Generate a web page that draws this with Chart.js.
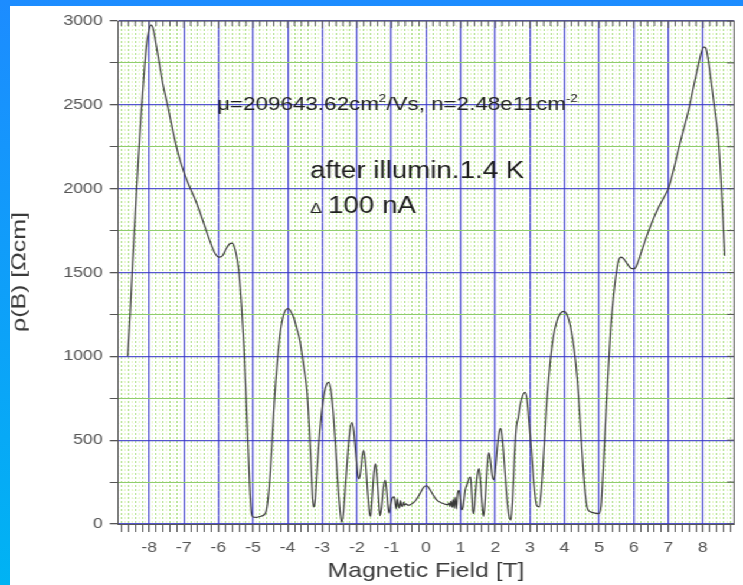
<!DOCTYPE html>
<html>
<head>
<meta charset="utf-8">
<script src="https://cdn.jsdelivr.net/npm/chart.js@4.4.1/dist/chart.umd.min.js"></script>
<style>
    html, body { margin: 0; padding: 0; }
    body {
        width: 743px; height: 585px; overflow: hidden; position: relative;
        background: linear-gradient(to bottom, #1c8cff, #00b3f3);
    }
    /* the original picture is stretched sideways, so the panel is too */
    #panel {
        position: absolute; left: 10px; top: 6px; width: 621px; height: 579px;
        background: #fff; transform: scaleX(1.1804); transform-origin: 0 0;
    }
</style>
</head>
<body>
<div id="panel"><canvas id="chart"></canvas></div>
<script>
// magnetic field B [T]
const fieldT = [
    -8.62,-8.55,-8.48,-8.40,-8.32,-8.24,-8.16,-8.08,-8.00,-7.94,
    -7.88,-7.80,-7.70,-7.60,-7.47,-7.30,-7.15,-7.00,-6.85,-6.70,
    -6.55,-6.40,-6.25,-6.10,-5.98,-5.88,-5.78,-5.68,-5.60,-5.52,
    -5.45,-5.40,-5.33,-5.26,-5.20,-5.14,-5.09,-5.05,-5.00,-4.90,
    -4.80,-4.70,-4.62,-4.56,-4.50,-4.44,-4.38,-4.30,-4.22,-4.14,
    -4.06,-3.98,-3.90,-3.82,-3.74,-3.64,-3.54,-3.44,-3.38,-3.32,
    -3.28,-3.25,-3.21,-3.16,-3.10,-3.03,-2.95,-2.87,-2.81,-2.75,
    -2.68,-2.62,-2.56,-2.50,-2.44,-2.39,-2.32,-2.25,-2.19,-2.14,
    -2.09,-2.03,-1.97,-1.93,-1.88,-1.84,-1.80,-1.75,-1.69,-1.63,
    -1.60,-1.55,-1.50,-1.46,-1.42,-1.37,-1.33,-1.29,-1.23,-1.18,
    -1.14,-1.10,-1.07,-1.02,-0.96,-0.92,-0.89,-0.86,-0.83,-0.80,
    -0.77,-0.74,-0.71,-0.68,-0.65,-0.62,-0.58,-0.52,-0.45,-0.38,
    -0.30,-0.22,-0.14,-0.07,0.00,0.06,0.13,0.20,0.28,0.36,
    0.45,0.55,0.62,0.66,0.69,0.72,0.75,0.78,0.81,0.84,
    0.88,0.91,0.95,0.99,1.03,1.07,1.13,1.20,1.26,1.29,
    1.32,1.35,1.38,1.42,1.48,1.53,1.57,1.62,1.66,1.70,
    1.75,1.79,1.82,1.86,1.91,1.96,2.01,2.07,2.12,2.16,
    2.21,2.27,2.34,2.40,2.45,2.50,2.56,2.61,2.66,2.72,
    2.80,2.86,2.92,2.98,3.05,3.12,3.20,3.27,3.33,3.40,
    3.48,3.58,3.68,3.78,3.88,3.98,4.08,4.18,4.28,4.37,
    4.45,4.53,4.60,4.66,4.75,4.88,5.00,5.06,5.12,5.19,
    5.26,5.33,5.40,5.48,5.56,5.64,5.72,5.82,5.92,6.02,
    6.12,6.25,6.40,6.55,6.70,6.85,7.00,7.15,7.30,7.45,
    7.60,7.72,7.85,7.95,8.02,8.08,8.16,8.25,8.35,8.44,
    8.52,8.58,8.63
];
// resistivity rho(B) [Ohm cm]
const rho = [
    1000,1250,1550,1850,2150,2420,2650,2850,2950,2975,
    2950,2860,2740,2620,2500,2330,2200,2100,2020,1950,
    1870,1780,1690,1615,1592,1600,1640,1670,1675,1640,
    1570,1490,1300,1050,760,450,200,70,42,40,
    45,52,75,160,310,520,740,960,1130,1230,
    1275,1285,1265,1230,1170,1089,950,793,600,350,
    170,102,130,280,470,640,770,835,845,800,
    660,480,280,110,10,60,250,450,570,605,
    560,420,290,270,330,410,438,370,200,60,
    45,180,320,359,290,150,50,90,220,262,
    200,100,65,120,160,162,120,90,150,115,
    95,140,110,105,130,112,120,112,115,125,
    140,165,195,218,228,222,200,175,150,135,
    125,118,115,125,105,135,100,145,95,160,
    90,180,201,150,85,100,200,245,278,280,
    180,80,63,160,290,330,260,120,45,120,
    290,400,425,380,290,265,340,480,555,570,
    500,340,150,45,24,150,420,580,630,710,
    770,785,740,600,420,230,110,102,200,420,
    700,950,1120,1210,1255,1268,1245,1170,1040,860,
    620,360,180,95,73,65,62,110,330,620,
    900,1150,1320,1470,1570,1592,1580,1550,1525,1522,
    1560,1640,1730,1810,1880,1940,2000,2110,2240,2360,
    2480,2600,2720,2810,2845,2840,2760,2620,2460,2312,
    2060,1820,1600
];
const xTickLabels = [-8, -7, -6, -5, -4, -3, -2, -1, 0, 1, 2, 3, 4, 5, 6, 7, 8];
const yTickLabels = [0, 500, 1000, 1500, 2000, 2500, 3000];
const xTitle = 'Magnetic Field [T]';
const yTitle = 'ρ(B) [Ωcm]';
const noteFit = [
    { text: 'μ=209643.62cm', sup: false },
    { text: '2', sup: true },
    { text: '/Vs, n=2.48e11cm', sup: false },
    { text: '-2', sup: true }
];
const noteRun = 'after illumin.1.4 K';
const noteCurrent = ['Δ', '100 nA'];

const FONT = '"Liberation Sans", Arial, sans-serif';
const isWhole = v => Math.abs(v - Math.round(v)) < 1e-6;
const tenth = v => Math.round(v * 10);

const framePlugin = {
    id: 'frame',
    afterDatasetsDraw: (chart) => {
        const {ctx, chartArea: a, scales} = chart;
        ctx.save();
        ctx.strokeStyle = '#555';
        ctx.lineWidth = 1;
        ctx.beginPath();
        ctx.moveTo(a.left, a.top);
        ctx.lineTo(a.right, a.top);
        ctx.lineTo(a.right, a.bottom);
        scales.x.ticks.forEach(t => {
            if (tenth(t.value) % 2 !== 0) return;
            const px = scales.x.getPixelForValue(t.value);
            ctx.moveTo(px, a.top);
            ctx.lineTo(px, a.top + (isWhole(t.value) ? 7 : 5));
        });
        scales.y.ticks.forEach(t => {
            if (t.value % 250 !== 0) return;
            const py = scales.y.getPixelForValue(t.value);
            ctx.moveTo(a.right, py);
            ctx.lineTo(a.right - 6, py);
        });
        ctx.stroke();
        ctx.restore();
    }
};

const notesPlugin = {
    id: 'notes',
    afterDraw: (chart) => {
        const ctx = chart.ctx;
        ctx.save();
        ctx.fillStyle = '#1e1e1e';
        ctx.textBaseline = 'alphabetic';
        ctx.textAlign = 'left';
        let x = 175.4;
        noteFit.forEach(p => {
            ctx.font = `${p.sup ? 11 : 19}px ${FONT}`;
            ctx.fillText(p.text, x, p.sup ? 96 : 104);
            x += ctx.measureText(p.text).width;
        });
        ctx.font = `23.5px ${FONT}`;
        ctx.fillText(noteRun, 254.2, 172);
        ctx.font = `15px ${FONT}`;
        ctx.fillText(noteCurrent[0], 254.2, 207);
        ctx.font = `23.5px ${FONT}`;
        ctx.fillText(noteCurrent[1], 269.4, 207);

        // y axis title, drawn by hand to match its long, narrow lettering
        ctx.fillStyle = '#3a3a3a';
        ctx.font = `16px ${FONT}`;
        const w = ctx.measureText(yTitle).width;
        ctx.translate(8.5, 266);
        ctx.rotate(-Math.PI / 2);
        ctx.scale(120 / w, 1);
        ctx.textAlign = 'center';
        ctx.textBaseline = 'middle';
        ctx.fillText(yTitle, 0, 0);
        ctx.restore();
    }
};

new Chart(document.getElementById('chart'), {
    type: 'line',
    data: {
        datasets: [{
            data: fieldT.map((b, i) => ({ x: b, y: rho[i] })),
            borderColor: '#3a3a3a',
            borderWidth: 1.2,
            pointRadius: 0,
            cubicInterpolationMode: 'monotone',
            fill: false
        }]
    },
    options: {
        responsive: true,
        maintainAspectRatio: false,
        animation: false,
        layout: { padding: { left: 0, top: 12, right: 7.6, bottom: 0 } },
        plugins: { legend: { display: false }, tooltip: { enabled: false } },
        scales: {
            x: {
                type: 'linear',
                min: -8.9,
                max: 8.9,
                afterFit: (s) => { s.height = 61; },
                ticks: {
                    stepSize: 0.1,
                    maxTicksLimit: 1000,
                    autoSkip: false,
                    minRotation: 0,
                    maxRotation: 0,
                    padding: 7,
                    color: '#555',
                    font: { family: FONT, size: 15 },
                    callback: (v) => isWhole(v) && xTickLabels.includes(Math.round(v)) ? String(Math.round(v)) : ''
                },
                grid: {
                    tickLength: 8,
                    color: (c) => {
                        const v = c.tick.value;
                        if (isWhole(v)) return 'rgba(55,55,200,0.85)';
                        return tenth(v) % 2 === 0 ? '#a8de80' : 'rgba(225,244,188,0.85)';
                    },
                    lineWidth: (c) => isWhole(c.tick.value) ? 1.3 : 1,
                    tickColor: (c) => tenth(c.tick.value) % 2 === 0 ? '#555' : 'rgba(0,0,0,0)'
                },
                border: {
                    display: true,
                    color: '#555',
                    width: 1,
                    dash: (c) => (c.tick && !isWhole(c.tick.value)) ? [2, 2] : []
                },
                title: {
                    display: true,
                    text: xTitle,
                    color: '#3a3a3a',
                    font: { family: FONT, size: 21 },
                    padding: { top: 0, bottom: 1 }
                }
            },
            y: {
                min: 0,
                max: 3000,
                afterFit: (s) => { s.width = 91.5; },
                ticks: {
                    stepSize: 50,
                    maxTicksLimit: 1000,
                    autoSkip: false,
                    padding: 6,
                    color: '#555',
                    font: { family: FONT, size: 15 },
                    callback: (v) => yTickLabels.includes(v) ? String(v) : ''
                },
                grid: {
                    tickLength: 7,
                    color: (c) => {
                        const v = c.tick.value;
                        if (v % 500 === 0) return 'rgba(55,55,200,0.85)';
                        if (v % 250 === 0) return '#8fcd6c';
                        return 'rgba(205,238,170,0.3)';
                    },
                    lineWidth: (c) => c.tick.value % 500 === 0 ? 1.3 : 1,
                    tickColor: (c) => c.tick.value % 250 === 0 ? '#555' : 'rgba(0,0,0,0)'
                },
                border: {
                    display: true,
                    color: '#555',
                    width: 1,
                    dash: (c) => (c.tick && c.tick.value % 250 !== 0) ? [1, 3] : []
                },
                title: { display: false }
            }
        }
    },
    plugins: [framePlugin, notesPlugin]
});
</script>
</body>
</html>
